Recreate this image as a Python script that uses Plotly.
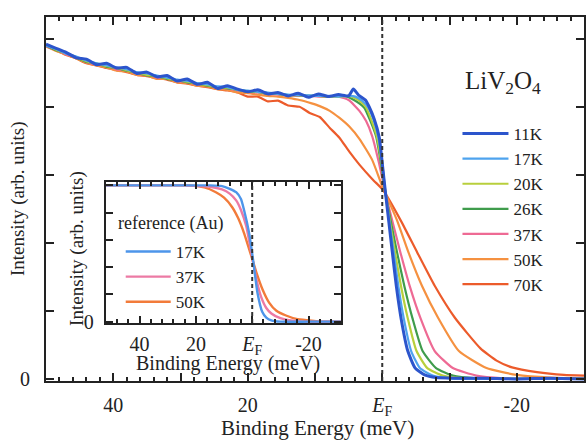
import plotly.graph_objects as go

FONT = "Liberation Serif"

# ---------------- main panel data (binding energy in meV, intensity arb. units) ----------------
TEMPS = ["11K", "17K", "20K", "26K", "37K", "50K", "70K"]
COLORS = ["#2c55cc", "#4ea3ee", "#b8cf3c", "#3f9c4c", "#ee6a94", "#f59140", "#ec5b2b"]
WIDTHS = [3.0, 2.2, 2.2, 2.2, 2.2, 2.2, 2.2]

E_TOP = [50, 48.5, 47, 45.5, 44, 42.5, 41, 39.5, 38, 36.5, 35, 33.5, 32, 30.5, 29,
         27.5, 26, 24.5, 23, 21.5, 20, 18.5, 17, 15.5, 14, 12.5, 11, 9.5, 8, 6.5]

E_11K = E_TOP + [5, 4.3, 3.5, 2.5, 1.9, 1.2, 0.44, 0, -0.5, -1.0, -1.5, -2.1, -2.8, -3.8,
                 -4.9, -6.3, -8, -11, -15, -20, -25, -30]
I_11K = [4.92, 4.86, 4.80, 4.72, 4.70, 4.62, 4.64, 4.57, 4.58, 4.49, 4.51, 4.44, 4.46, 4.38, 4.41,
         4.33, 4.36, 4.27, 4.31, 4.26, 4.22, 4.25, 4.19, 4.21, 4.16, 4.20, 4.14, 4.19, 4.15, 4.18,
         4.16, 4.26, 4.17, 4.10, 3.99, 3.82, 3.55, 3.17, 2.72, 2.29, 1.86, 1.36, 0.89, 0.41,
         0.16, 0.06, 0.02, 0.01, 0.01, 0.0, 0.01, 0.0]

E_17K = E_TOP + [5, 4.0, 3.0, 2.1, 1.3, 0.6, 0, -0.5, -1.1, -1.7, -2.4, -3.2, -4.3, -5.6,
                 -7.5, -10, -15, -20, -25, -30]
I_17K = [4.90, 4.85, 4.78, 4.74, 4.68, 4.64, 4.61, 4.58, 4.55, 4.51, 4.49, 4.46, 4.43, 4.40, 4.38,
         4.35, 4.33, 4.30, 4.29, 4.25, 4.24, 4.22, 4.21, 4.19, 4.18, 4.17, 4.17, 4.16, 4.16, 4.15,
         4.16, 4.15, 4.09, 3.99, 3.81, 3.56, 3.17, 2.72, 2.28, 1.86, 1.36, 0.89, 0.41, 0.16,
         0.05, 0.01, 0.0, 0.0, 0.0, 0.0]

E_20K = E_TOP + [5, 4.5, 3.4, 2.4, 1.6, 0.8, 0.1, -0.5, -1.2, -1.9, -2.8, -3.8, -5.1, -6.7,
                 -9, -12, -16, -20, -25, -30]
I_20K = [4.91, 4.84, 4.79, 4.73, 4.67, 4.63, 4.60, 4.57, 4.54, 4.50, 4.47, 4.45, 4.42, 4.39, 4.37,
         4.34, 4.32, 4.29, 4.28, 4.25, 4.23, 4.22, 4.20, 4.19, 4.17, 4.17, 4.16, 4.16, 4.15, 4.15,
         4.16, 4.15, 4.09, 3.99, 3.80, 3.56, 3.17, 2.72, 2.27, 1.86, 1.36, 0.89, 0.41, 0.16,
         0.05, 0.01, 0.0, 0.0, 0.0, 0.0]

E_26K = E_TOP + [5.6, 4.2, 2.7, 1.8, 0.9, 0.2, -0.5, -1.3, -2.2, -3.3, -4.5, -6.0, -8.0,
                 -10.5, -14, -20, -25, -30]
I_26K = [4.90, 4.83, 4.79, 4.72, 4.66, 4.64, 4.59, 4.57, 4.53, 4.50, 4.46, 4.45, 4.41, 4.39, 4.36,
         4.34, 4.31, 4.29, 4.27, 4.25, 4.22, 4.22, 4.19, 4.19, 4.17, 4.17, 4.16, 4.16, 4.15, 4.16,
         4.16, 4.10, 3.99, 3.80, 3.56, 3.17, 2.72, 2.30, 1.86, 1.36, 0.89, 0.41, 0.16,
         0.05, 0.01, 0.0, 0.0, 0.0]

E_37K = E_TOP[:-1] + [6.5, 5.0, 3.4, 2.4, 1.5, 0.5, -0.5, -1.5, -2.7, -4.1, -5.7, -7.8, -10.5,
                      -14, -18, -22, -26, -30]
I_37K = [4.89, 4.84, 4.77, 4.73, 4.66, 4.62, 4.60, 4.55, 4.54, 4.49, 4.47, 4.43, 4.42, 4.38, 4.36,
         4.33, 4.32, 4.28, 4.27, 4.24, 4.22, 4.21, 4.19, 4.18, 4.17, 4.16, 4.16, 4.15, 4.15,
         4.15, 4.10, 3.94, 3.79, 3.57, 3.18, 2.72, 2.32, 1.86, 1.36, 0.89, 0.41, 0.16,
         0.05, 0.01, 0.0, 0.0, 0.0]

E_50K = E_TOP[:25] + [12.3, 10.5, 9.3, 7.8, 6.4, 4.9, 3.4, 1.5, 0, -0.5, -2.2, -3.9, -5.9, -8.3,
                      -11.4, -15.5, -20, -25, -30]
I_50K = [4.89, 4.82, 4.77, 4.71, 4.65, 4.61, 4.58, 4.53, 4.52, 4.47, 4.46, 4.41, 4.41, 4.36, 4.35,
         4.31, 4.30, 4.26, 4.25, 4.21, 4.20, 4.18, 4.16, 4.15, 4.13,
         4.10, 4.05, 4.01, 3.94, 3.84, 3.71, 3.53, 3.22, 2.83, 2.72, 2.33, 1.86, 1.37, 0.90,
         0.41, 0.16, 0.06, 0.02, 0.01]

E_70K = E_TOP[:19] + [21.5, 20, 18.5, 17, 15.5, 14, 12.3, 10.8, 9.3, 7.8, 6.4, 4.9, 3.4, 1.5, 0,
                      -0.5, -2.8, -5.2, -7.8, -10.8, -14.6, -17, -19.3, -23, -27, -30]
I_70K = [4.89, 4.83, 4.76, 4.71, 4.64, 4.61, 4.57, 4.54, 4.51, 4.47, 4.45, 4.42, 4.40, 4.36, 4.34,
         4.31, 4.29, 4.26, 4.24,
         4.21, 4.15, 4.15, 4.08, 4.09, 4.02, 4.00, 3.91, 3.85, 3.69, 3.55, 3.34, 3.15, 2.94, 2.79,
         2.72, 2.32, 1.86, 1.37, 0.90, 0.45, 0.27, 0.17, 0.10, 0.06, 0.05]

MAIN_E = [E_11K, E_17K, E_20K, E_26K, E_37K, E_50K, E_70K]
MAIN_I = [I_11K, I_17K, I_20K, I_26K, I_37K, I_50K, I_70K]

MAIN_XTICKS = [50, 40, 30, 20, 10, 0, -10, -20, -30]
MAIN_XTEXT = ["", "40", "", "20", "", "<i>E</i><sub>F</sub>", "", "-20", ""]
MAIN_YTICKS = [0, 1, 2, 3, 4, 5]
MAIN_YTEXT = ["0", "", "", "", "", ""]

# ---------------- inset data: reference Au ----------------
AU_TEMPS = ["17K", "37K", "50K"]
AU_COLORS = ["#4d95ea", "#ec7aa4", "#f27b3a"]
E_AU17 = [52, 30, 15, 10.7, 8, 5.7, 4, 2.9, 1.1, -0.4, -1.8, -3.6, -5, -6.8, -10, -20, -31.5]
I_AU17 = [1.0, 1.0, 1.0, 0.995, 0.975, 0.95, 0.90, 0.82, 0.65, 0.44, 0.22, 0.07, 0.03, 0.01, 0.0, 0.0, 0.0]
E_AU37 = [52, 25, 19, 15, 10.7, 8, 5.7, 4, 2.1, 0, -1.5, -3.2, -5, -6.8, -10, -13, -18, -31.5]
I_AU37 = [1.0, 1.0, 0.995, 0.99, 0.97, 0.94, 0.89, 0.82, 0.70, 0.47, 0.31, 0.18, 0.10, 0.06, 0.025, 0.01, 0.0, 0.0]
E_AU50 = [52, 22.5, 17, 12.9, 10, 7.1, 5, 2.9, 0, -1.5, -3.6, -6, -8.6, -12, -15.7, -20, -25, -31.5]
I_AU50 = [1.0, 1.0, 0.985, 0.95, 0.91, 0.84, 0.76, 0.65, 0.46, 0.36, 0.24, 0.14, 0.08, 0.045, 0.02, 0.01, 0.0, 0.0]
AU_E = [E_AU17, E_AU37, E_AU50]
AU_I = [I_AU17, I_AU37, I_AU50]

INSET_XTICKS = [40, 20, 0, -20]
INSET_XTEXT = ["40", "20", "<i>E</i><sub>F</sub>", "-20"]
INSET_YTICKS = [0, 0.2, 0.4, 0.6, 0.8, 1.0]
INSET_YTEXT = ["0", "", "", "", "", ""]

# ---------------- layout geometry (pixels) ----------------
W, H = 586, 442
ML, MR, MT, MB = 46, 0, 17, 61
PW, PH = W - ML - MR, H - MT - MB


def px(x):
    return (x - ML) / PW


def py(y):
    return (H - MB - y) / PH


fig = go.Figure()

order = list(range(len(TEMPS)))[::-1]  # draw hottest first, 11K on top
for i in order:
    fig.add_trace(go.Scatter(
        x=MAIN_E[i], y=MAIN_I[i], mode="lines", name=TEMPS[i],
        line=dict(color=COLORS[i], width=WIDTHS[i], shape="spline", smoothing=0.5),
        legend="legend", legendgroup=TEMPS[i], legendrank=i + 1,
        xaxis="x", yaxis="y"))

for i in range(len(AU_TEMPS))[::-1]:
    fig.add_trace(go.Scatter(
        x=AU_E[i], y=AU_I[i], mode="lines", name=AU_TEMPS[i],
        line=dict(color=AU_COLORS[i], width=2.4, shape="spline", smoothing=0.5),
        legend="legend2", legendgroup="au" + AU_TEMPS[i], legendrank=i + 1,
        xaxis="x2", yaxis="y2"))

axcol = "#222222"
common_ax = dict(showline=True, linecolor=axcol, linewidth=2, mirror="ticks", ticks="inside",
                 tickcolor=axcol, tickwidth=1.5, showgrid=False, zeroline=False,
                 tickfont=dict(family=FONT, size=20, color="#222"))

fig.update_layout(
    width=W, height=H,
    margin=dict(l=ML, r=MR, t=MT, b=MB),
    paper_bgcolor="white", plot_bgcolor="white",
    xaxis=dict(domain=[0, 1], range=[50, -30], tickmode="array", tickvals=MAIN_XTICKS,
               ticktext=MAIN_XTEXT, ticklen=8, ticklabelstandoff=5,
               minor=dict(dtick=2, ticklen=4, ticks="inside", tickcolor=axcol, tickwidth=1.5),
               anchor="y", **common_ax),
    yaxis=dict(domain=[0, 1], range=[-0.03, 5.32], tickmode="array", tickvals=MAIN_YTICKS,
               ticktext=MAIN_YTEXT, ticklen=8, ticklabelstandoff=10, anchor="x", **common_ax),
    xaxis2=dict(domain=[px(106), px(342)], range=[52, -31.5], tickmode="array",
                tickvals=INSET_XTICKS, ticktext=INSET_XTEXT, ticklen=7, ticklabelstandoff=2,
                minor=dict(dtick=4, ticklen=4, ticks="inside", tickcolor=axcol, tickwidth=1.5),
                anchor="y2", **common_ax),
    yaxis2=dict(domain=[py(323), py(182)], range=[-0.01, 1.025], tickmode="array",
                tickvals=INSET_YTICKS, ticktext=INSET_YTEXT, ticklen=7, ticklabelstandoff=6,
                anchor="x2", **common_ax),
    legend=dict(x=px(459), y=py(116), xanchor="left", yanchor="top",
                font=dict(family=FONT, size=17, color="#222"), bgcolor="rgba(0,0,0,0)",
                tracegroupgap=0, itemwidth=46),
    legend2=dict(x=px(121), y=py(234), xanchor="left", yanchor="top",
                 font=dict(family=FONT, size=17, color="#222"), bgcolor="rgba(0,0,0,0)",
                 tracegroupgap=0, itemwidth=45),
    showlegend=True,
)

# Fermi level dashed lines
fig.add_shape(type="line", xref="x", yref="y domain", x0=0, x1=0, y0=0, y1=1,
              line=dict(color="#333", width=2, dash="4px,3px"))
fig.add_shape(type="line", xref="x2", yref="y2 domain", x0=0, x1=0, y0=0, y1=1,
              line=dict(color="#333", width=2, dash="4px,3px"))

ann = [
    dict(text="Intensity (arb. units)", x=px(18), y=0.5, textangle=-90, size=19),
    dict(text="Binding Energy (meV)", x=px(319), y=py(428), textangle=0, size=21),
    dict(text="Intensity (arb. units)", x=px(77), y=py(248), textangle=-90, size=19),
    dict(text="Binding Energy (meV)", x=px(229), y=py(363), textangle=0, size=20),
    dict(text="LiV<sub>2</sub>O<sub>4</sub>", x=px(505), y=py(82), textangle=0, size=25),
    dict(text="reference (Au)", x=px(171), y=py(223), textangle=0, size=18),
]
for a in ann:
    fig.add_annotation(text=a["text"], x=a["x"], y=a["y"], xref="paper", yref="paper",
                       textangle=a["textangle"], showarrow=False, xanchor="center", yanchor="middle",
                       font=dict(family=FONT, size=a["size"], color="#222"))

fig.write_html("out.html")
